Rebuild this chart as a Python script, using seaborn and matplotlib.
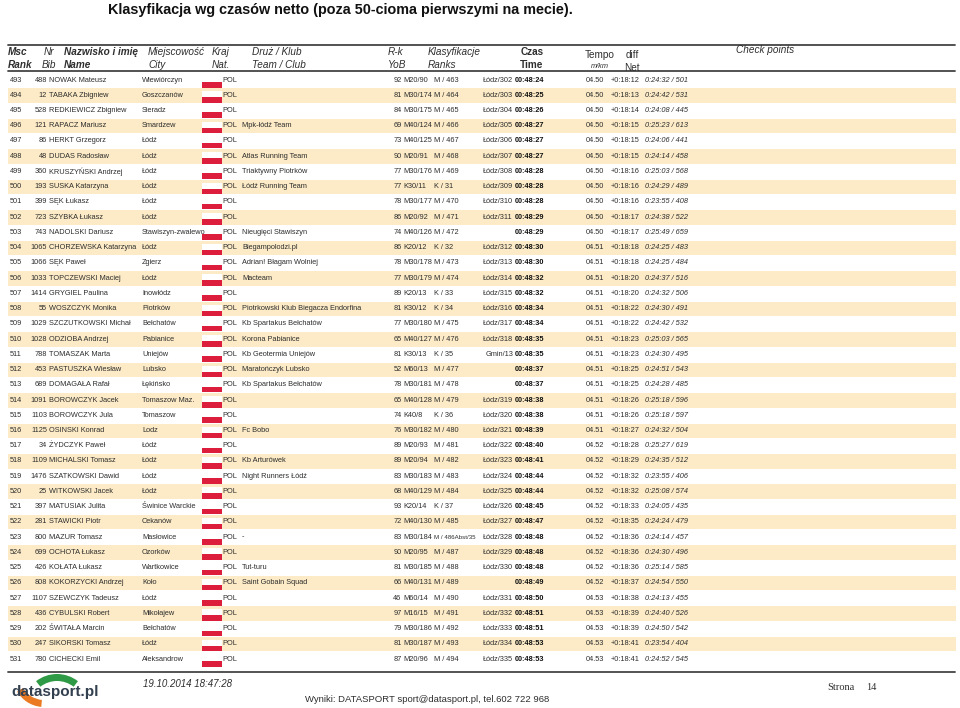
import matplotlib
matplotlib.use("Agg")
import matplotlib.pyplot as plt
from matplotlib.patches import Rectangle, Wedge
import seaborn as sns

# table data
rank = list(range(493, 532))
bib = [488, 12, 528, 121, 86, 48, 360, 193, 399, 723, 743, 1065, 1066, 1033, 1414, 55, 1029, 1028, 788, 453,
       689, 1091, 1103, 1125, 34, 1109, 1476, 25, 397, 281, 800, 699, 426, 808, 1107, 436, 202, 247, 780]
names = ["NOWAK Mateusz", "TABAKA Zbigniew", "REDKIEWICZ Zbigniew", "RAPACZ Mariusz", "HERKT Grzegorz",
         "DUDAS Radosław", "KRUSZYŃSKI Andrzej", "SUSKA Katarzyna", "SĘK Łukasz", "SZYBKA Łukasz",
         "NADOLSKI Dariusz", "CHORZEWSKA Katarzyna", "SĘK Paweł", "TOPCZEWSKI Maciej", "GRYGIEL Paulina",
         "WOSZCZYK Monika", "SZCZUTKOWSKI Michał", "ODZIOBA Andrzej", "TOMASZAK Marta", "PASTUSZKA Wiesław",
         "DOMAGAŁA Rafał", "BOROWCZYK Jacek", "BOROWCZYK Jula", "OSINSKI Konrad", "ŻYDCZYK Paweł",
         "MICHALSKI Tomasz", "SZATKOWSKI Dawid", "WITKOWSKI Jacek", "MATUSIAK Julita", "STAWICKI Piotr",
         "MAZUR Tomasz", "OCHOTA Łukasz", "KOŁATA Łukasz", "KOKORZYCKI Andrzej", "SZEWCZYK Tadeusz",
         "CYBULSKI Robert", "ŚWITAŁA Marcin", "SIKORSKI Tomasz", "CICHECKI Emil"]
cities = ["Wiewiórczyn", "Goszczanów", "Sieradz", "Smardzew", "Łódź", "Łódź", "Łódź", "Łódź", "Łódź", "Łódź",
          "Stawiszyn-zwalewo", "Łódź", "Zgierz", "Łódź", "Inowłódz", "Piotrków", "Bełchatów", "Pabianice",
          "Uniejów", "Lubsko", "Łękińsko", "Tomaszow Maz.", "Tomaszow", "Lodz", "Łódź", "Łódź", "Łódź", "Łódź",
          "Świnice Warckie", "Cekanów", "Masłowice", "Ozorków", "Wartkowice", "Koło", "Łódź", "Mikołajew",
          "Bełchatów", "Łódź", "Aleksandrow"]
teams = ["", "", "", "Mpk-łódź Team", "", "Atlas Running Team", "Triaktywny Piotrków", "Łódź Running Team",
         "", "", "Nieugięci Stawiszyn", "Biegampolodzi.pl", "Adrian! Błagam Wolniej", "Macteam", "",
         "Piotrkowski Klub Biegacza Endorfina", "Kb Spartakus Bełchatów", "Korona Pabianice",
         "Kb Geotermia Uniejów", "Maratończyk Lubsko", "Kb Spartakus Bełchatów", "", "", "Fc Bobo", "",
         "Kb Arturówek", "Night Runners Łódź", "", "", "", "-", "", "Tut-turu", "Saint Gobain Squad", "", "",
         "", "", ""]
yob = [92, 81, 84, 69, 73, 90, 77, 77, 78, 86, 74, 86, 78, 77, 89, 81, 77, 65, 81, 52,
       78, 65, 74, 76, 89, 89, 83, 68, 93, 72, 83, 90, 81, 66, 46, 97, 79, 81, 87]
age_cat = ["M20/90", "M30/174", "M30/175", "M40/124", "M40/125", "M20/91", "M30/176", "K30/11", "M30/177",
           "M20/92", "M40/126", "K20/12", "M30/178", "M30/179", "K20/13", "K30/12", "M30/180", "M40/127",
           "K30/13", "M60/13", "M30/181", "M40/128", "K40/8", "M30/182", "M20/93", "M20/94", "M30/183",
           "M40/129", "K20/14", "M40/130", "M30/184", "M20/95", "M30/185", "M40/131", "M60/14", "M16/15",
           "M30/186", "M30/187", "M20/96"]
sex_rank = ["M / 463", "M / 464", "M / 465", "M / 466", "M / 467", "M / 468", "M / 469", "K / 31", "M / 470",
            "M / 471", "M / 472", "K / 32", "M / 473", "M / 474", "K / 33", "K / 34", "M / 475", "M / 476",
            "K / 35", "M / 477", "M / 478", "M / 479", "K / 36", "M / 480", "M / 481", "M / 482", "M / 483",
            "M / 484", "K / 37", "M / 485", "M / 486Abst/35", "M / 487", "M / 488", "M / 489", "M / 490",
            "M / 491", "M / 492", "M / 493", "M / 494"]
city_rank = ["Łódz/302", "Łódz/303", "Łódz/304", "Łódz/305", "Łódz/306", "Łódz/307", "Łódz/308", "Łódz/309",
             "Łódz/310", "Łódz/311", "", "Łódz/312", "Łódz/313", "Łódz/314", "Łódz/315", "Łódz/316",
             "Łódz/317", "Łódz/318", "Gmin/13", "", "", "Łódz/319", "Łódz/320", "Łódz/321", "Łódz/322",
             "Łódz/323", "Łódz/324", "Łódz/325", "Łódz/326", "Łódz/327", "Łódz/328", "Łódz/329", "Łódz/330",
             "", "Łódz/331", "Łódz/332", "Łódz/333", "Łódz/334", "Łódz/335"]
times = ["00:48:24", "00:48:25", "00:48:26", "00:48:27", "00:48:27", "00:48:27", "00:48:28", "00:48:28",
         "00:48:28", "00:48:29", "00:48:29", "00:48:30", "00:48:30", "00:48:32", "00:48:32", "00:48:34",
         "00:48:34", "00:48:35", "00:48:35", "00:48:37", "00:48:37", "00:48:38", "00:48:38", "00:48:39",
         "00:48:40", "00:48:41", "00:48:44", "00:48:44", "00:48:45", "00:48:47", "00:48:48", "00:48:48",
         "00:48:48", "00:48:49", "00:48:50", "00:48:51", "00:48:51", "00:48:53", "00:48:53"]
tempo = ["04.50"] * 11 + ["04.51"] * 13 + ["04.52"] * 10 + ["04.53"] * 5
diffs = ["+0:18:12", "+0:18:13", "+0:18:14", "+0:18:15", "+0:18:15", "+0:18:15", "+0:18:16", "+0:18:16",
         "+0:18:16", "+0:18:17", "+0:18:17", "+0:18:18", "+0:18:18", "+0:18:20", "+0:18:20", "+0:18:22",
         "+0:18:22", "+0:18:23", "+0:18:23", "+0:18:25", "+0:18:25", "+0:18:26", "+0:18:26", "+0:18:27",
         "+0:18:28", "+0:18:29", "+0:18:32", "+0:18:32", "+0:18:33", "+0:18:35", "+0:18:36", "+0:18:36",
         "+0:18:36", "+0:18:37", "+0:18:38", "+0:18:39", "+0:18:39", "+0:18:41", "+0:18:41"]
checkpoints = ["0:24:32 / 501", "0:24:42 / 531", "0:24:08 / 445", "0:25:23 / 613", "0:24:06 / 441",
               "0:24:14 / 458", "0:25:03 / 568", "0:24:29 / 489", "0:23:55 / 408", "0:24:38 / 522",
               "0:25:49 / 659", "0:24:25 / 483", "0:24:25 / 484", "0:24:37 / 516", "0:24:32 / 506",
               "0:24:30 / 491", "0:24:42 / 532", "0:25:03 / 565", "0:24:30 / 495", "0:24:51 / 543",
               "0:24:28 / 485", "0:25:18 / 596", "0:25:18 / 597", "0:24:32 / 504", "0:25:27 / 619",
               "0:24:35 / 512", "0:23:55 / 406", "0:25:08 / 574", "0:24:05 / 435", "0:24:24 / 479",
               "0:24:14 / 457", "0:24:30 / 496", "0:25:14 / 585", "0:24:54 / 550", "0:24:13 / 455",
               "0:24:40 / 526", "0:24:50 / 542", "0:23:54 / 404", "0:24:52 / 545"]

sns.set_theme(style="white")
plt.rcParams["font.family"] = ["Liberation Sans", "DejaVu Sans"]

fig = plt.figure(figsize=(9.6, 7.08), dpi=100)
ax = fig.add_axes([0, 0, 1, 1])
ax.set_xlim(0, 960)
ax.set_ylim(708, 0)
ax.axis("off")

txt = "#2e2e2e"
band = "#fcebc6"

# title
ax.text(108, 10, "Klasyfikacja wg czasów netto (poza 50-cioma pierwszymi na mecie).",
        fontsize=10.4, fontweight="bold", va="center", ha="left", color="#111111")

# header
ax.plot([8, 955], [45, 45], color="#444444", lw=1.3)
ax.plot([8, 955], [70.5, 70.5], color="#444444", lw=1.3)
hdr = [
    (8, "Msc", "Rank", dict(fontweight="bold", style="italic")),
    (44, "Nr", "Bib", dict(style="italic")),
    (64, "Nazwisko i imię", "Name", dict(fontweight="bold", style="italic")),
    (148, "Miejscowość", "City", dict(style="italic")),
    (212, "Kraj", "Nat.", dict(style="italic")),
    (252, "Druż / Klub", "Team / Club", dict(style="italic")),
    (388, "R-k", "YoB", dict(style="italic")),
    (428, "Klasyfikacje", "Ranks", dict(style="italic")),
]
for x, a, b, kw in hdr:
    ax.text(x, 52, a, fontsize=7.2, va="center", ha="left", color=txt, **kw)
    ax.text(x if a != "Nr" else 42, 65, b, fontsize=7.2, va="center", ha="left", color=txt, **kw)
ax.text(532, 52, "Czas", fontsize=7.2, fontweight="bold", va="center", ha="center", color=txt)
ax.text(532, 65, "Time", fontsize=7.2, fontweight="bold", va="center", ha="center", color=txt)
ax.text(600, 55, "Tempo", fontsize=7.2, va="center", ha="center", color=txt)
ax.text(600, 66, "m/km", fontsize=5.3, style="italic", va="center", ha="center", color=txt)
ax.text(632, 55, "diff", fontsize=7.2, va="center", ha="center", color=txt)
ax.text(632, 68, "Net", fontsize=7.2, va="center", ha="center", color=txt)
ax.text(765, 50, "Check points", fontsize=7.2, style="italic", va="center", ha="center", color=txt)

# rows
y0, dy = 80, 15.24
fs = 5.3
for i in range(len(rank)):
    y = y0 + i * dy
    if i % 2 == 1:
        ax.add_patch(Rectangle((8, y - 7), 948, 14.5, color=band, lw=0, zorder=0))
    # flag
    ax.add_patch(Rectangle((202, y - 4), 19.5, 6, color="white", lw=0, zorder=1))
    ax.add_patch(Rectangle((202, y + 2), 19.5, 5.5, color="#dc1e3c", lw=0, zorder=1))
    kw = dict(fontsize=fs, va="center", color=txt)
    ax.text(10, y, str(rank[i]), ha="left", **kw)
    ax.text(47, y, str(bib[i]), ha="right", **kw)
    ax.text(49, y, names[i], ha="left", **kw)
    ax.text(142, y, cities[i], ha="left", **kw)
    ax.text(222, y, "POL", ha="left", **kw)
    ax.text(242, y, teams[i], ha="left", **kw)
    ax.text(401.5, y, str(yob[i]), ha="right", **kw)
    ax.text(403.5, y, age_cat[i], ha="left", **kw)
    ax.text(434, y, sex_rank[i], ha="left", fontsize=fs if len(sex_rank[i]) < 9 else 4.4,
            va="center", color=txt)
    ax.text(513, y, city_rank[i], ha="right", **kw)
    ax.text(515, y, times[i], ha="left", fontweight="bold", fontsize=fs, va="center", color="#111111")
    ax.text(586, y, tempo[i], ha="left", **kw)
    ax.text(611, y, diffs[i], ha="left", **kw)
    ax.text(645, y, checkpoints[i], ha="left", style="italic", **kw)

# footer
ax.plot([8, 955], [671.5, 671.5], color="#444444", lw=1.3)
ax.add_patch(Wedge((57, 708), 34, 232, 308, width=7, color="#2e9a45", lw=0))
ax.add_patch(Wedge((44, 676), 31, 95, 150, width=7, color="#ea7b23", lw=0))
ax.text(11, 692, "datasport.pl", fontsize=11, fontweight="bold", va="center", ha="left", color="#33404f")
ax.text(143, 684, "19.10.2014 18:47:28", fontsize=7, style="italic", va="center", ha="left", color=txt)
ax.text(305, 700, "Wyniki: DATASPORT sport@datasport.pl, tel.602 722 968", fontsize=6.8, va="center",
        ha="left", color=txt)
ax.text(827, 687, "Strona", fontsize=7.5, va="center", ha="left", color=txt, family="Liberation Serif")
ax.text(866, 687, "14", fontsize=7.5, va="center", ha="left", color=txt, family="Liberation Serif")

fig.savefig("out.png", dpi=100)
